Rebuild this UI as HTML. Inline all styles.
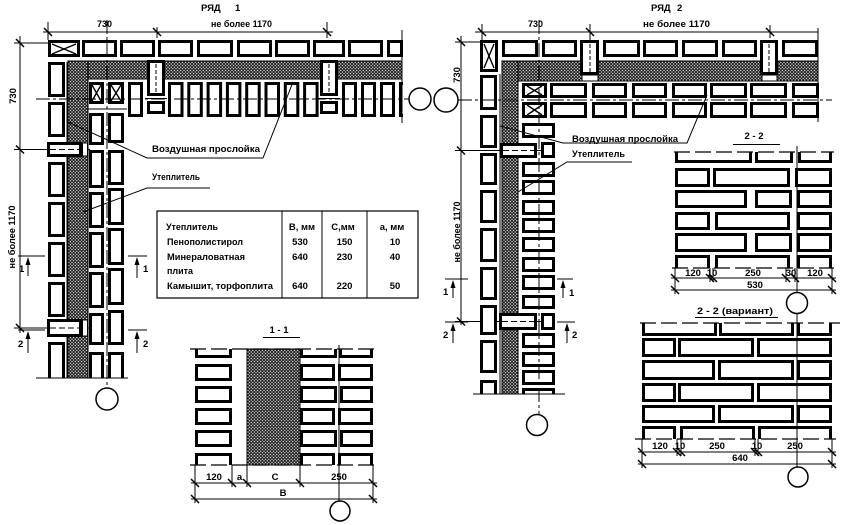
<!DOCTYPE html>
<html><head><meta charset="utf-8"><style>
html,body{margin:0;padding:0;background:#fff;}
svg{display:block}
.b{fill:#fff;stroke:#000;stroke-width:3}
.t{fill:none;stroke:#000;stroke-width:1}
.tk{fill:none;stroke:#000;stroke-width:1.5}
.ax{fill:none;stroke:#000;stroke-width:1;stroke-dasharray:14 3 3 3}
.ds{fill:none;stroke:#000;stroke-width:1.3;stroke-dasharray:16 5}
.ins{fill:url(#h);stroke:#000;stroke-width:1}
.x{stroke:#000;stroke-width:1.4}
text{font-family:"Liberation Sans","DejaVu Sans",sans-serif;font-weight:bold;font-size:9.5px;fill:#000}
</style></head><body>
<svg width="842" height="525" viewBox="0 0 842 525" xmlns="http://www.w3.org/2000/svg">
<defs>
<pattern id="h" width="3.2" height="3.2" patternUnits="userSpaceOnUse"><rect width="3.2" height="3.2" fill="#fff"/><path d="M0 0L3.2 3.2M3.2 0L0 3.2" stroke="#000" stroke-width="0.9"/></pattern>
</defs>
<rect width="842" height="525" fill="#fff"/>

<!-- ================= LEFT PLAN (РЯД 1) ================= -->
<text x="201" y="11" font-size="10.5">РЯД</text>
<text x="235" y="11" font-size="10.5">1</text>
<path class="t" d="M43 32H333M48 22V40M157 27V38M327 22V38"/>
<text x="97" y="27" textLength="15" lengthAdjust="spacingAndGlyphs">730</text>
<text x="211" y="27" textLength="61" lengthAdjust="spacingAndGlyphs">не более 1170</text>
<path class="t" d="M20 36V333M14 43H48M14 328H48"/>
<path class="t" d="M14 149.5H48" />
<path class="t" d="M48 149.5H93M48 328H92" stroke-dasharray="6 3"/>
<text transform="translate(16,96) rotate(-90)" text-anchor="middle">730</text>
<text transform="translate(15,237) rotate(-90)" text-anchor="middle" textLength="63" lengthAdjust="spacingAndGlyphs">не более 1170</text>
<path class="tk" d="M44 28L52 36M153 28L161 36M323 28L331 36M16 39L24 47M16 145.5L24 153.5M16 324L24 332"/>

<rect class="ins" x="68" y="61" width="334" height="18"/>
<rect class="ins" x="68" y="61" width="20" height="317"/>
<path class="t" d="M67 62V378"/>

<rect class="b" x="49.5" y="41.5" width="29" height="14"/>
<path class="x" d="M52 44L76 54M52 54L76 44"/>
<rect class="b" x="83.5" y="41.5" width="32" height="14"/>
<rect class="b" x="121.5" y="41.5" width="32" height="14"/>
<rect class="b" x="159.5" y="41.5" width="32" height="14"/>
<rect class="b" x="198.5" y="41.5" width="33" height="14"/>
<rect class="b" x="238.5" y="41.5" width="32" height="14"/>
<rect class="b" x="276.5" y="41.5" width="32" height="14"/>
<rect class="b" x="314.5" y="41.5" width="29" height="14"/>
<rect class="b" x="349.5" y="41.5" width="32" height="14"/>
<rect class="b" x="388.5" y="41.5" width="13" height="14"/>

<rect class="b" x="148.5" y="61.5" width="15" height="33"/>
<path class="t" d="M156 64V93" stroke-dasharray="4 2"/>
<path class="t" d="M145 98.5H167"/>
<rect class="b" x="148.5" y="102.5" width="15" height="10"/>
<rect class="b" x="321.5" y="61.5" width="15" height="33"/>
<path class="t" d="M329 64V93" stroke-dasharray="4 2"/>
<path class="t" d="M318 98.5H340"/>
<rect class="b" x="321.5" y="102.5" width="15" height="10"/>

<rect class="b" x="129.5" y="83.5" width="12" height="32"/>
<rect class="b" x="169.5" y="83.5" width="12.5" height="32"/>
<rect class="b" x="188.8" y="83.5" width="12.5" height="32"/>
<rect class="b" x="208.1" y="83.5" width="12.5" height="32"/>
<rect class="b" x="227.4" y="83.5" width="12.5" height="32"/>
<rect class="b" x="246.7" y="83.5" width="12.5" height="32"/>
<rect class="b" x="266" y="83.5" width="12.5" height="32"/>
<rect class="b" x="285.3" y="83.5" width="12.5" height="32"/>
<rect class="b" x="304.6" y="83.5" width="12.5" height="32"/>
<rect class="b" x="343.5" y="83.5" width="12" height="32"/>
<rect class="b" x="362.5" y="83.5" width="12" height="32"/>
<rect class="b" x="381.5" y="83.5" width="12" height="32"/>
<path class="b" d="M403 83.5H400.5V115.5H403" fill="none"/>
<rect class="b" x="90.5" y="83.5" width="12" height="19"/>
<path class="x" d="M92 85L101 101M92 101L101 85"/>
<rect class="b" x="109.5" y="83.5" width="13" height="19"/>
<path class="x" d="M111 85L121 101M111 101L121 85"/>
<path class="t" d="M88 109H127"/>

<rect class="b" x="49.5" y="63.5" width="14" height="32"/>
<rect class="b" x="49.5" y="103.5" width="14" height="32"/>
<rect class="b" x="49.5" y="163.5" width="14" height="32"/>
<rect class="b" x="49.5" y="203.5" width="14" height="32"/>
<rect class="b" x="49.5" y="243.5" width="14" height="32"/>
<rect class="b" x="49.5" y="283.5" width="14" height="32"/>
<path class="b" d="M49.5 378V343.5H63.5V378"/>
<rect class="b" x="48.5" y="143.5" width="32" height="12"/>
<rect x="82.5" y="143" width="5" height="13" fill="#fff" stroke="#000" stroke-width="1"/>
<path class="t" d="M50 149.5H80" stroke-dasharray="6 3"/>
<rect class="b" x="48.5" y="320.5" width="32" height="15"/>
<rect x="82.5" y="320" width="5" height="16" fill="#fff" stroke="#000" stroke-width="1"/>
<path class="t" d="M50 328H80" stroke-dasharray="6 3"/>

<rect class="b" x="90.5" y="114.5" width="12" height="29"/>
<rect class="b" x="90.5" y="151.5" width="12" height="35"/>
<rect class="b" x="90.5" y="193.5" width="12" height="33"/>
<rect class="b" x="90.5" y="233.5" width="12" height="33"/>
<rect class="b" x="90.5" y="273.5" width="12" height="33"/>
<rect class="b" x="90.5" y="314.5" width="12" height="29"/>
<path class="b" d="M90.5 378V353.5H102.5V378"/>
<rect class="b" x="109.5" y="114.5" width="13" height="27"/>
<rect class="b" x="109.5" y="151.5" width="13" height="32"/>
<rect class="b" x="109.5" y="189.5" width="13" height="34"/>
<rect class="b" x="109.5" y="229.5" width="13" height="34"/>
<rect class="b" x="109.5" y="269.5" width="13" height="34"/>
<rect class="b" x="109.5" y="311.5" width="13" height="32"/>
<path class="b" d="M109.5 378V353.5H122.5V378"/>

<path class="t" d="M36 378H128M402 30V123"/>
<path class="ax" d="M107 20V388M36 99H409"/>
<circle cx="107" cy="399" r="11" fill="#fff" stroke="#000" stroke-width="1.5"/>
<circle cx="420" cy="99" r="11" fill="#fff" stroke="#000" stroke-width="1.5"/>

<path class="t" d="M18 256H45M128 256H147M18 330H45M128 330H147"/>
<path class="t" d="M28 263V276M137 263V278M28 337V353M137 337V353" stroke-width="1.4"/>
<path d="M28 257L25.5 265H30.5ZM137 257L134.5 265H139.5ZM28 331L25.5 339H30.5ZM137 331L134.5 339H139.5Z" fill="#000"/>
<text x="19" y="272" font-size="9">1</text>
<text x="143" y="272" font-size="9">1</text>
<text x="18" y="347" font-size="9">2</text>
<text x="143" y="347" font-size="9">2</text>

<path class="t" d="M68 122L147 158H263L293 82"/>
<text x="152" y="152" textLength="108" lengthAdjust="spacingAndGlyphs">Воздушная прослойка</text>
<path class="t" d="M210 188H147L83 212"/>
<text x="152" y="180" textLength="48" lengthAdjust="spacingAndGlyphs">Утеплитель</text>

<rect x="157" y="211" width="261" height="87" fill="none" stroke="#000" stroke-width="1.2"/>
<path class="t" d="M282 211V298M322 211V298M367 211V298" stroke-width="1.2"/>
<text x="166" y="230" textLength="52" lengthAdjust="spacingAndGlyphs">Утеплитель</text>
<text x="302" y="230" text-anchor="middle">В, мм</text>
<text x="343" y="230" text-anchor="middle">С,мм</text>
<text x="392" y="230" text-anchor="middle">а, мм</text>
<text x="167" y="245" textLength="76" lengthAdjust="spacingAndGlyphs">Пенополистирол</text>
<text x="300" y="245" text-anchor="middle">530</text>
<text x="344.5" y="245" text-anchor="middle">150</text>
<text x="395" y="245" text-anchor="middle">10</text>
<text x="167" y="260" textLength="78" lengthAdjust="spacingAndGlyphs">Минераловатная</text>
<text x="300" y="260" text-anchor="middle">640</text>
<text x="344.5" y="260" text-anchor="middle">230</text>
<text x="395" y="260" text-anchor="middle">40</text>
<text x="167" y="274" textLength="26" lengthAdjust="spacingAndGlyphs">плита</text>
<text x="167" y="289" textLength="106" lengthAdjust="spacingAndGlyphs">Камышит, торфоплита</text>
<text x="300" y="289" text-anchor="middle">640</text>
<text x="344.5" y="289" text-anchor="middle">220</text>
<text x="395" y="289" text-anchor="middle">50</text>

<!-- ================= SECTION 1-1 ================= -->
<text x="279" y="333" text-anchor="middle">1 - 1</text>
<path class="t" d="M263 337.5H300"/>
<rect class="ins" x="247" y="349" width="53" height="116" stroke-width="2"/>
<path class="b" d="M196.5 349V356.5H230.5V349"/>
<rect class="b" x="196.5" y="365.5" width="34" height="14"/>
<rect class="b" x="196.5" y="387.5" width="34" height="14"/>
<rect class="b" x="196.5" y="409.5" width="34" height="14"/>
<rect class="b" x="196.5" y="431.5" width="34" height="14"/>
<path class="b" d="M196.5 465V454.5H230.5V465"/>
<path class="b" d="M301.5 349V356.5H335.5V349M340.5 349V356.5H371.5V349"/>
<rect class="b" x="301.5" y="365.5" width="32" height="14"/>
<rect class="b" x="339.5" y="365.5" width="32" height="14"/>
<rect class="b" x="301.5" y="387.5" width="34" height="14"/>
<rect class="b" x="341.5" y="387.5" width="30" height="14"/>
<rect class="b" x="301.5" y="409.5" width="32" height="14"/>
<rect class="b" x="339.5" y="409.5" width="32" height="14"/>
<rect class="b" x="301.5" y="431.5" width="34" height="14"/>
<rect class="b" x="341.5" y="431.5" width="30" height="14"/>
<path class="b" d="M301.5 465V454.5H333.5V465M339.5 465V454.5H371.5V465"/>
<path class="ds" d="M190 349H376M190 465H376"/>
<path class="t" d="M339 345V501"/>
<circle cx="340" cy="511" r="10" fill="#fff" stroke="#000" stroke-width="1.5"/>
<path class="t" d="M195 465V503M232 465V487M247 465V487M300 465V487M373 465V503M191 483H377M191 499H377"/>
<path class="tk" d="M191 479L199 487M228 479L236 487M243 479L251 487M296 479L304 487M369 479L377 487M191 495L199 503M369 495L377 503"/>
<text x="214" y="480" text-anchor="middle">120</text>
<text x="239.5" y="480" text-anchor="middle">a</text>
<text x="275" y="480" text-anchor="middle">C</text>
<text x="339" y="480" text-anchor="middle">250</text>
<text x="283" y="496" text-anchor="middle">B</text>

<!-- ================= RIGHT PLAN (РЯД 2) ================= -->
<text x="651" y="11" font-size="10.5">РЯД</text>
<text x="677" y="11" font-size="10.5">2</text>
<path class="t" d="M475 32H818M482 24V40M590 24V40M770 25V38"/>
<text x="528" y="27" textLength="15" lengthAdjust="spacingAndGlyphs">730</text>
<text x="643" y="27" textLength="67" lengthAdjust="spacingAndGlyphs">не более 1170</text>
<path class="t" d="M461 36V325M455 42H480M455 150.5H500M455 321.5H499"/>
<path class="t" d="M500 150.5H555M499 321.5H555" stroke-dasharray="6 3"/>
<text transform="translate(460,75) rotate(-90)" text-anchor="middle">730</text>
<text transform="translate(460,232) rotate(-90)" text-anchor="middle" textLength="61" lengthAdjust="spacingAndGlyphs">не более 1170</text>
<path class="tk" d="M478 28L486 36M586 28L594 36M766 28L774 36M457 38L465 46M457 146.5L465 154.5M457 317.5L465 325.5"/>

<rect class="ins" x="502" y="61" width="316" height="20"/>
<rect class="ins" x="502" y="61" width="16" height="333"/>
<path class="t" d="M500 74V394"/>

<rect class="b" x="481.5" y="41.5" width="15" height="29"/>
<path class="x" d="M484 44L494 68M484 68L494 44"/>
<rect class="b" x="503.5" y="41.5" width="33" height="14"/>
<rect class="b" x="543.5" y="41.5" width="32" height="14"/>
<rect class="b" x="581.5" y="41.5" width="16" height="32"/>
<path class="t" d="M590 44V80" stroke-dasharray="4 2"/>
<rect x="582" y="75" width="16" height="6" fill="#fff" stroke="#000" stroke-width="1"/>
<rect class="b" x="604.5" y="41.5" width="34" height="14"/>
<rect class="b" x="644.5" y="41.5" width="32" height="14"/>
<rect class="b" x="683.5" y="41.5" width="33" height="14"/>
<rect class="b" x="723.5" y="41.5" width="32" height="14"/>
<rect class="b" x="761.5" y="41.5" width="15" height="32"/>
<path class="t" d="M769 44V80" stroke-dasharray="4 2"/>
<rect x="762" y="75" width="15" height="6" fill="#fff" stroke="#000" stroke-width="1"/>
<rect class="b" x="783.5" y="41.5" width="33" height="14"/>

<rect class="b" x="523.5" y="84.5" width="22" height="12"/>
<path class="x" d="M527 86L542 95M527 95L542 86"/>
<rect class="b" x="523.5" y="103.5" width="22" height="13"/>
<path class="x" d="M527 105L542 115M527 115L542 105"/>
<rect class="b" x="551.5" y="84.5" width="34" height="12"/>
<rect class="b" x="593.5" y="84.5" width="32" height="12"/>
<rect class="b" x="633.5" y="84.5" width="32" height="12"/>
<rect class="b" x="673.5" y="84.5" width="32" height="12"/>
<rect class="b" x="711.5" y="84.5" width="34" height="12"/>
<rect class="b" x="751.5" y="84.5" width="34" height="12"/>
<rect class="b" x="793.5" y="84.5" width="24" height="12"/>
<rect class="b" x="551.5" y="103.5" width="34" height="13"/>
<rect class="b" x="593.5" y="103.5" width="32" height="13"/>
<rect class="b" x="633.5" y="103.5" width="32" height="13"/>
<rect class="b" x="673.5" y="103.5" width="32" height="13"/>
<rect class="b" x="711.5" y="103.5" width="34" height="13"/>
<rect class="b" x="751.5" y="103.5" width="34" height="13"/>
<rect class="b" x="793.5" y="103.5" width="24" height="13"/>

<rect class="b" x="481.5" y="76.5" width="14" height="32"/>
<rect class="b" x="481.5" y="116.5" width="14" height="30"/>
<rect class="b" x="481.5" y="154.5" width="14" height="29"/>
<rect class="b" x="481.5" y="191.5" width="14" height="30"/>
<rect class="b" x="481.5" y="229.5" width="14" height="31"/>
<rect class="b" x="481.5" y="268.5" width="14" height="30"/>
<rect class="b" x="481.5" y="306.5" width="14" height="27"/>
<rect class="b" x="481.5" y="341.5" width="14" height="30"/>
<path class="b" d="M481.5 394V381.5H495.5V394"/>

<rect class="b" x="501.5" y="144.5" width="34" height="12"/>
<path class="t" d="M503 150.5H534" stroke-dasharray="6 3"/>
<rect class="b" x="542.5" y="143.5" width="11" height="13"/>
<rect class="b" x="500.5" y="314.5" width="35" height="14"/>
<path class="t" d="M502 321.5H534" stroke-dasharray="6 3"/>
<rect class="b" x="542.5" y="314.5" width="11" height="14"/>

<rect class="b" x="523.5" y="124.5" width="30" height="12"/>
<rect class="b" x="523.5" y="163.5" width="30" height="12"/>
<rect class="b" x="523.5" y="181.5" width="30" height="12"/>
<rect class="b" x="523.5" y="201.5" width="30" height="12"/>
<rect class="b" x="523.5" y="219.5" width="30" height="12"/>
<rect class="b" x="523.5" y="238.5" width="30" height="12"/>
<rect class="b" x="523.5" y="258.5" width="30" height="12"/>
<rect class="b" x="523.5" y="276.5" width="30" height="12"/>
<rect class="b" x="523.5" y="296.5" width="30" height="11"/>
<rect class="b" x="523.5" y="334.5" width="30" height="12"/>
<rect class="b" x="523.5" y="353.5" width="30" height="12"/>
<rect class="b" x="523.5" y="371.5" width="30" height="12"/>
<path class="b" d="M523.5 394V389.5H553.5V394"/>

<path class="t" d="M473 394H565M818 28V122"/>
<path class="ax" d="M539 20V414M458 100H832"/>
<circle cx="446" cy="100" r="12" fill="#fff" stroke="#000" stroke-width="1.5"/>
<circle cx="537" cy="425" r="10.5" fill="#fff" stroke="#000" stroke-width="1.5"/>

<path class="t" d="M445 279H468M557 279H573M445 322H468M557 322H575"/>
<path class="t" d="M453 286V298M563 286V298M453 329V343M567 329V343" stroke-width="1.4"/>
<path d="M453 280L450.5 288H455.5ZM563 280L560.5 288H565.5ZM453 323L450.5 331H455.5ZM567 323L564.5 331H569.5Z" fill="#000"/>
<text x="443" y="295" font-size="9">1</text>
<text x="569" y="296" font-size="9">1</text>
<text x="443" y="338" font-size="9">2</text>
<text x="572" y="338" font-size="9">2</text>

<path class="t" d="M500 126L563 143H687L707 95"/>
<text x="572" y="142" textLength="106" lengthAdjust="spacingAndGlyphs">Воздушная прослойка</text>
<path class="t" d="M632 162H567L518 192"/>
<text x="572" y="157" textLength="53" lengthAdjust="spacingAndGlyphs">Утеплитель</text>

<!-- ================= SECTION 2-2 ================= -->
<text x="754" y="139" text-anchor="middle">2 - 2</text>
<path class="t" d="M733 144.5H780"/>
<path class="b" d="M676.5 152V161.5H750.5V152M756.5 152V161.5H791.5V152M799.5 152V161.5H830.5V152"/>
<rect class="b" x="676.5" y="169.5" width="32" height="16"/>
<rect class="b" x="714.5" y="169.5" width="74" height="16"/>
<rect class="b" x="796.5" y="169.5" width="34" height="16"/>
<rect class="b" x="676.5" y="191.5" width="69" height="15"/>
<rect class="b" x="756.5" y="191.5" width="34" height="15"/>
<rect class="b" x="798.5" y="191.5" width="32" height="15"/>
<rect class="b" x="676.5" y="213.5" width="32" height="15"/>
<rect class="b" x="716.5" y="213.5" width="72" height="15"/>
<rect class="b" x="798.5" y="213.5" width="32" height="15"/>
<rect class="b" x="676.5" y="234.5" width="69" height="16"/>
<rect class="b" x="756.5" y="234.5" width="34" height="16"/>
<rect class="b" x="798.5" y="234.5" width="32" height="16"/>
<path class="b" d="M676.5 268V256.5H708.5V268M716.5 268V256.5H788.5V268M798.5 268V256.5H830.5V268"/>
<path class="ds" d="M674 152H834M672 268H834"/>
<path class="t" d="M797 146V292"/>
<circle cx="797" cy="303" r="10.5" fill="#fff" stroke="#000" stroke-width="1.5"/>
<path class="t" d="M675 268V294M710 268V282M713 268V282M786 268V282M795 268V282M832 268V294M671 278H836M671 290H836"/>
<path class="tk" d="M671 274L679 282M706 274L714 282M709 274L717 282M782 274L790 282M791 274L799 282M828 274L836 282M671 286L679 294M828 286L836 294"/>
<text x="693" y="276" text-anchor="middle">120</text>
<text x="712" y="276" text-anchor="middle">10</text>
<text x="753" y="276" text-anchor="middle">250</text>
<text x="791" y="276" text-anchor="middle">30</text>
<text x="815" y="276" text-anchor="middle">120</text>
<text x="755" y="288" text-anchor="middle">530</text>

<!-- ================= SECTION 2-2 (вариант) ================= -->
<text x="697" y="314" textLength="76" lengthAdjust="spacingAndGlyphs">2 - 2 (вариант)</text>
<path class="t" d="M695 317.5H778"/>
<path class="b" d="M643.5 323V334.5H715.5V323M720.5 323V334.5H792.5V323M798.5 323V334.5H830.5V323"/>
<rect class="b" x="643.5" y="339.5" width="31" height="16"/>
<rect class="b" x="679.5" y="339.5" width="73" height="16"/>
<rect class="b" x="758.5" y="339.5" width="72" height="16"/>
<rect class="b" x="643.5" y="361.5" width="70" height="17"/>
<rect class="b" x="719.5" y="361.5" width="73" height="17"/>
<rect class="b" x="798.5" y="361.5" width="32" height="17"/>
<rect class="b" x="643.5" y="384.5" width="31" height="16"/>
<rect class="b" x="679.5" y="384.5" width="73" height="16"/>
<rect class="b" x="758.5" y="384.5" width="72" height="16"/>
<rect class="b" x="643.5" y="406.5" width="70" height="15"/>
<rect class="b" x="719.5" y="406.5" width="73" height="15"/>
<rect class="b" x="798.5" y="406.5" width="32" height="15"/>
<path class="b" d="M643.5 439V427.5H674.5V439M681.5 439V427.5H753.5V439M759.5 439V427.5H830.5V439"/>
<path class="ds" d="M640 323H840M635 439H836"/>
<path class="t" d="M797 314V467"/>
<circle cx="798" cy="477" r="10" fill="#fff" stroke="#000" stroke-width="1.5"/>
<path class="t" d="M642 439V468M677 439V456M681 439V456M755 439V456M758 439V456M832 439V468M638 452H836M638 464H836"/>
<path class="tk" d="M638 448L646 456M673 448L681 456M677 448L685 456M751 448L759 456M754 448L762 456M828 448L836 456M638 460L646 468M828 460L836 468"/>
<text x="660" y="449" text-anchor="middle">120</text>
<text x="680" y="449" text-anchor="middle">10</text>
<text x="717" y="449" text-anchor="middle">250</text>
<text x="757" y="449" text-anchor="middle">10</text>
<text x="795" y="449" text-anchor="middle">250</text>
<text x="740" y="461" text-anchor="middle">640</text>
</svg>
</body></html>
